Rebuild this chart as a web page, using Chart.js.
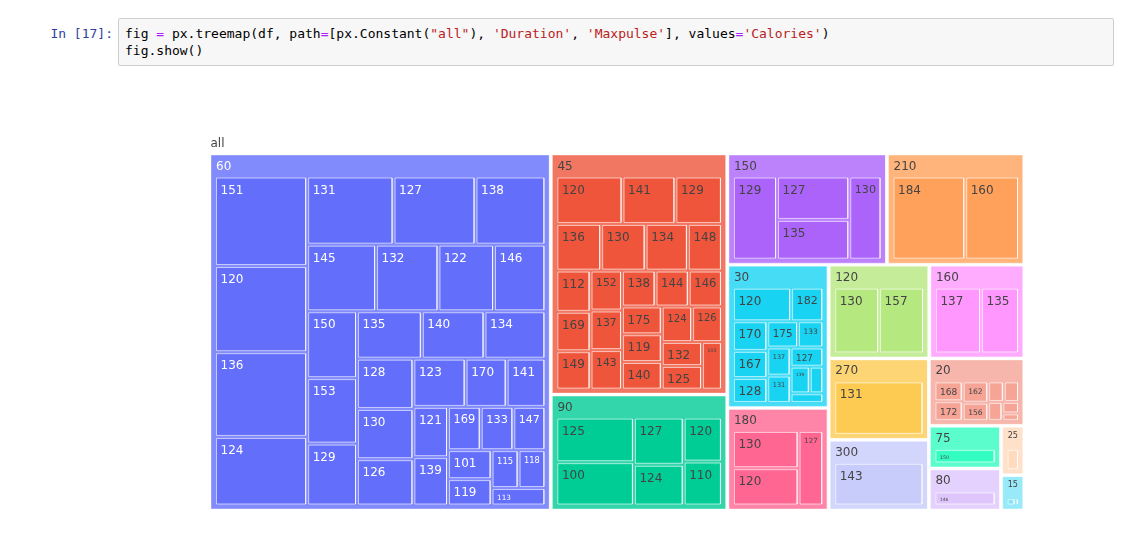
<!DOCTYPE html>
<html>
<head>
<meta charset="utf-8">
<script src="https://cdn.jsdelivr.net/npm/chart.js@4.4.1/dist/chart.umd.min.js"></script>
<style>
html,body{margin:0;padding:0;background:#fff;width:1134px;height:560px;overflow:hidden;position:relative;}
.prompt{position:absolute;left:0;width:113px;top:25px;text-align:right;font:13px "DejaVu Sans Mono",monospace;color:#303f9f;line-height:17px;white-space:pre;}
.code{position:absolute;left:118px;top:18px;width:982px;height:34px;padding:6px;background:#f7f7f7;border:1px solid #cfcfcf;border-radius:2px;font:13px "DejaVu Sans Mono",monospace;line-height:17px;white-space:pre;color:#000;}
.o{color:#aa22ff;}
.s{color:#ba2121;}
#wrap{position:absolute;left:0;top:0;width:1134px;height:560px;}
</style>
</head>
<body>
<div class="prompt">In [17]:</div>
<div class="code">fig <span class="o">=</span> px.treemap(df, path<span class="o">=</span>[px.Constant(<span class="s">"all"</span>), <span class="s">'Duration'</span>, <span class="s">'Maxpulse'</span>], values<span class="o">=</span><span class="s">'Calories'</span>)
fig.show()</div>
<div id="wrap"><canvas id="c" width="1134" height="560"></canvas></div>
<script>
// ---- data: Calories summed per Duration / Maxpulse ----
const rootLabel = 'all';
const durations = ['60','45','90','150','210','30','180','120','160','270','300','20','75','80','25','15'];

const maxpulse60 = [151,120,136,124,131,127,138,145,132,122,146,150,153,129,135,140,134,128,130,126,123,170,141,121,139,169,133,147,101,119,115,118,113];
const calories60 = [1958.7,1886.3,1854.2,1501.2,1399.2,1326.9,1131.5,1089.6,986.8,877.8,812.6,792.2,775.2,733.5,730.0,705.8,685.5,673.3,672.1,620.5,598.0,470.2,443.0,413.0,397.6,336.7,335.0,329.3,300.0,273.0,243.0,241.0,223.0];
const maxpulse45 = [120,141,129,136,130,134,148,112,169,149,152,137,143,138,144,146,175,119,140,124,126,132,125,103];
const calories45 = [801.7,641.0,564.0,534.0,530.4,504.3,406.0,360.2,344.0,335.4,321.0,318.0,317.7,308.0,305.0,304.0,282.4,282.0,280.9,275.0,270.8,246.0,243.0,242.0];
const maxpulse90 = [125,100,127,124,120,110];
const calories90 = [1029.6,1000.4,700.0,604.1,500.3,500.0];
const maxpulse150 = [129,127,135,130];
const calories150 = [1115.0,953.2,873.4,816.0];
const maxpulse210 = [184,160];
const calories210 = [1860.4,1376.0];
const maxpulse30 = [120,182,170,167,128,175,133,137,131,127,139,107,108];
const calories30 = [577.5,319.2,300.1,275.8,252.2,238.0,195.1,193.9,188.2,185.0,151.1,105.3,92.7];
const maxpulse180 = [130,120,127];
const calories180 = [800.4,800.3,600.1];
const maxpulse120 = [130,157];
const calories120 = [1000.4,1000.1];
const maxpulse160 = [137,135];
const calories160 = [1034.4,853.0];
const maxpulse270 = [131];
const calories270 = [1729.0];
const maxpulse300 = [143];
const calories300 = [1500.2];
const maxpulse20 = [168,172,162,156,130,171,136,112,107];
const calories20 = [229.4,226.4,222.4,189.0,131.4,127.4,110.4,77.7,50.3];
const maxpulse75 = [150];
const calories75 = [650.8];
const maxpulse80 = [146];
const calories80 = [643.1];
const maxpulse25 = [168];
const calories25 = [244.2];
const maxpulse15 = [139,100];
const calories15 = [124.2,50.5];

const leafPulse = {'60':maxpulse60,'45':maxpulse45,'90':maxpulse90,'150':maxpulse150,'210':maxpulse210,'30':maxpulse30,'180':maxpulse180,'120':maxpulse120,'160':maxpulse160,'270':maxpulse270,'300':maxpulse300,'20':maxpulse20,'75':maxpulse75,'80':maxpulse80,'25':maxpulse25,'15':maxpulse15};
const leafCal = {'60':calories60,'45':calories45,'90':calories90,'150':calories150,'210':calories210,'30':calories30,'180':calories180,'120':calories120,'160':calories160,'270':calories270,'300':calories300,'20':calories20,'75':calories75,'80':calories80,'25':calories25,'15':calories15};

// ---- styles (by rank of group size, plotly extended colorway) ----
const leafColors = ['#636efa','#ef553b','#00cc96','#ab63fa','#ffa15a','#19d3f3','#ff6692','#b6e880','#ff97ff','#fecb52','#c8ccfb','#f5a496','#33fdc0','#dec6fd','#ffdabd','#7fe5f8'];
const headerColors = ['#828bfb','#f27762','#33d6ab','#bc82fb','#ffb47b','#47dcf5','#ff85a8','#c5ed99','#ffacff','#fed575','#d3d6fc','#f7b6ab','#5cfdcd','#e5d1fd','#ffe1ca','#99eaf9'];
const FONT = '"DejaVu Sans", Verdana, sans-serif';
const PAD = {inner: 3, t: 23, l: 5.5, r: 5.5, b: 5};
const AREA = {x0: 211, y0: 155, x1: 1023, y1: 509}; // region for the groups

// ---- hierarchy ----
const root = {label: rootLabel, children: []};
durations.forEach(d => {
  const g = {label: d, children: leafPulse[d].map((p, i) => ({label: String(p), value: leafCal[d][i]}))};
  g.children.sort((a, b) => b.value - a.value);
  g.value = g.children.reduce((s, c) => s + c.value, 0);
  root.children.push(g);
});
root.children.sort((a, b) => b.value - a.value);
root.value = root.children.reduce((s, c) => s + c.value, 0);

// ---- squarify tiling (d3-hierarchy algorithm, ratio 1) ----
function dice(row, total, x0, y0, x1, y1) {
  const k = total ? (x1 - x0) / total : 0;
  for (const n of row) { n.y0 = y0; n.y1 = y1; n.x0 = x0; x0 += n.value * k; n.x1 = x0; }
}
function slice(row, total, x0, y0, x1, y1) {
  const k = total ? (y1 - y0) / total : 0;
  for (const n of row) { n.x0 = x0; n.x1 = x1; n.y0 = y0; y0 += n.value * k; n.y1 = y0; }
}
function squarify(parent, x0, y0, x1, y1, ratio) {
  const nodes = parent.children, n = nodes.length;
  let i0 = 0, i1 = 0, value = parent.value;
  while (i0 < n) {
    const dx = x1 - x0, dy = y1 - y0;
    let sumValue;
    do { sumValue = nodes[i1++].value; } while (!sumValue && i1 < n);
    let minValue = sumValue, maxValue = sumValue;
    const alpha = Math.max(dy / dx, dx / dy) / (value * ratio);
    let beta = sumValue * sumValue * alpha;
    let minRatio = Math.max(maxValue / beta, beta / minValue);
    for (; i1 < n; ++i1) {
      const nv = nodes[i1].value;
      sumValue += nv;
      if (nv < minValue) minValue = nv;
      if (nv > maxValue) maxValue = nv;
      beta = sumValue * sumValue * alpha;
      const newRatio = Math.max(maxValue / beta, beta / minValue);
      if (newRatio > minRatio) { sumValue -= nv; break; }
      minRatio = newRatio;
    }
    const row = nodes.slice(i0, i1);
    if (dx < dy) {
      const ny = value ? y0 + dy * sumValue / value : y1;
      dice(row, sumValue, x0, y0, x1, ny); y0 = ny;
    } else {
      const nx = value ? x0 + dx * sumValue / value : x1;
      slice(row, sumValue, x0, y0, nx, y1); x0 = nx;
    }
    value -= sumValue; i0 = i1;
  }
}
function position(node, p) {
  let x0 = node.x0 + p, y0 = node.y0 + p, x1 = node.x1 - p, y1 = node.y1 - p;
  if (x1 < x0) x0 = x1 = (x0 + x1) / 2;
  if (y1 < y0) y0 = y1 = (y0 + y1) / 2;
  node.x0 = x0; node.y0 = y0; node.x1 = x1; node.y1 = y1;
  if (node.children) {
    const q = PAD.inner / 2;
    let cx0 = x0 + PAD.l - q, cy0 = y0 + PAD.t - q, cx1 = x1 - PAD.r + q, cy1 = y1 - PAD.b + q;
    if (cx1 < cx0) cx0 = cx1 = (cx0 + cx1) / 2;
    if (cy1 < cy0) cy0 = cy1 = (cy0 + cy1) / 2;
    squarify(node, cx0, cy0, cx1, cy1, 1);
    for (const c of node.children) position(c, q);
  }
}
root.x0 = AREA.x0 - PAD.l; root.y0 = AREA.y0 - PAD.t; root.x1 = AREA.x1 + PAD.r; root.y1 = AREA.y1 + PAD.b;
position(root, 0);

// ---- datasets: one closed shape per cell ----
function corners(n) {
  return [{x:n.x0,y:n.y0},{x:n.x1,y:n.y0},{x:n.x1,y:n.y1},{x:n.x0,y:n.y1},{x:n.x0,y:n.y0}];
}
const datasets = [];
root.children.forEach((g, gi) => {
  g.rank = gi;
  datasets.push({label: g.label, data: corners(g), showLine: true, fill: 'shape', tension: 0,
    backgroundColor: headerColors[gi], borderColor: 'rgba(255,255,255,0.4)', borderWidth: 1,
    pointRadius: 0, pointHoverRadius: 0, order: 2, clip: false});
  g.children.forEach(l => {
    l.rank = gi;
    datasets.push({label: g.label + '/' + l.label, data: corners(l), showLine: true, fill: 'shape', tension: 0,
      backgroundColor: leafColors[gi], borderColor: 'rgba(255,255,255,0.6)', borderWidth: 1,
      pointRadius: 0, pointHoverRadius: 0, order: 1, clip: false});
  });
});

function drawLabel(ctx, text, X0, Y0, X1, Y1, color, kind) {
  const w = X1 - X0;
  const h = kind === 'leaf' ? (Y1 - Y0) : 23;
  ctx.font = '12px ' + FONT;
  const tw = ctx.measureText(text).width;
  const pad = kind === 'leaf' ? 4 : 5;
  const sw = (w - 2 * pad) / tw, sh = (h - 6) / 14;
  const s = Math.min(1, sw, sh);
  if (!(s * 12 >= 3)) return;
  ctx.font = (12 * s).toFixed(2) + 'px ' + FONT;
  ctx.fillStyle = color;
  ctx.textBaseline = 'alphabetic';
  ctx.textAlign = 'left';
  let x = X0 + pad;
  if (s < 1 && sw <= sh) x = X0 + (w - tw * s) / 2;
  const base = Y0 + (kind === 'leaf' ? 3.5 : 2.5) + 12 * s;
  ctx.fillText(text, x, base);
}

const labelPlugin = {
  id: 'treemapLabels',
  afterDatasetsDraw(chart) {
    const {ctx} = chart, xs = chart.scales.x, ys = chart.scales.y;
    const P = (n) => [xs.getPixelForValue(n.x0), ys.getPixelForValue(n.y0), xs.getPixelForValue(n.x1), ys.getPixelForValue(n.y1)];
    ctx.save();
    const r = P(root);
    drawLabel(ctx, root.label, r[0], r[1], r[2], r[3], '#444444', 'root');
    for (const g of root.children) {
      const tc = g.rank === 0 ? '#ffffff' : '#444444';
      const b = P(g);
      drawLabel(ctx, g.label, b[0], b[1], b[2], b[3], tc, 'group');
      for (const l of g.children) {
        const c = P(l);
        drawLabel(ctx, l.label, c[0], c[1], c[2], c[3], tc, 'leaf');
      }
    }
    ctx.restore();
  }
};

new Chart(document.getElementById('c'), {
  type: 'scatter',
  data: {datasets},
  options: {
    responsive: false,
    animation: false,
    devicePixelRatio: 1,
    layout: {padding: 0},
    elements: {line: {borderJoinStyle: 'miter'}},
    scales: {
      x: {type: 'linear', min: 0, max: 1134, display: false},
      y: {type: 'linear', min: 0, max: 560, reverse: true, display: false}
    },
    plugins: {legend: {display: false}, tooltip: {enabled: false}}
  },
  plugins: [labelPlugin]
});
</script>
</body>
</html>
